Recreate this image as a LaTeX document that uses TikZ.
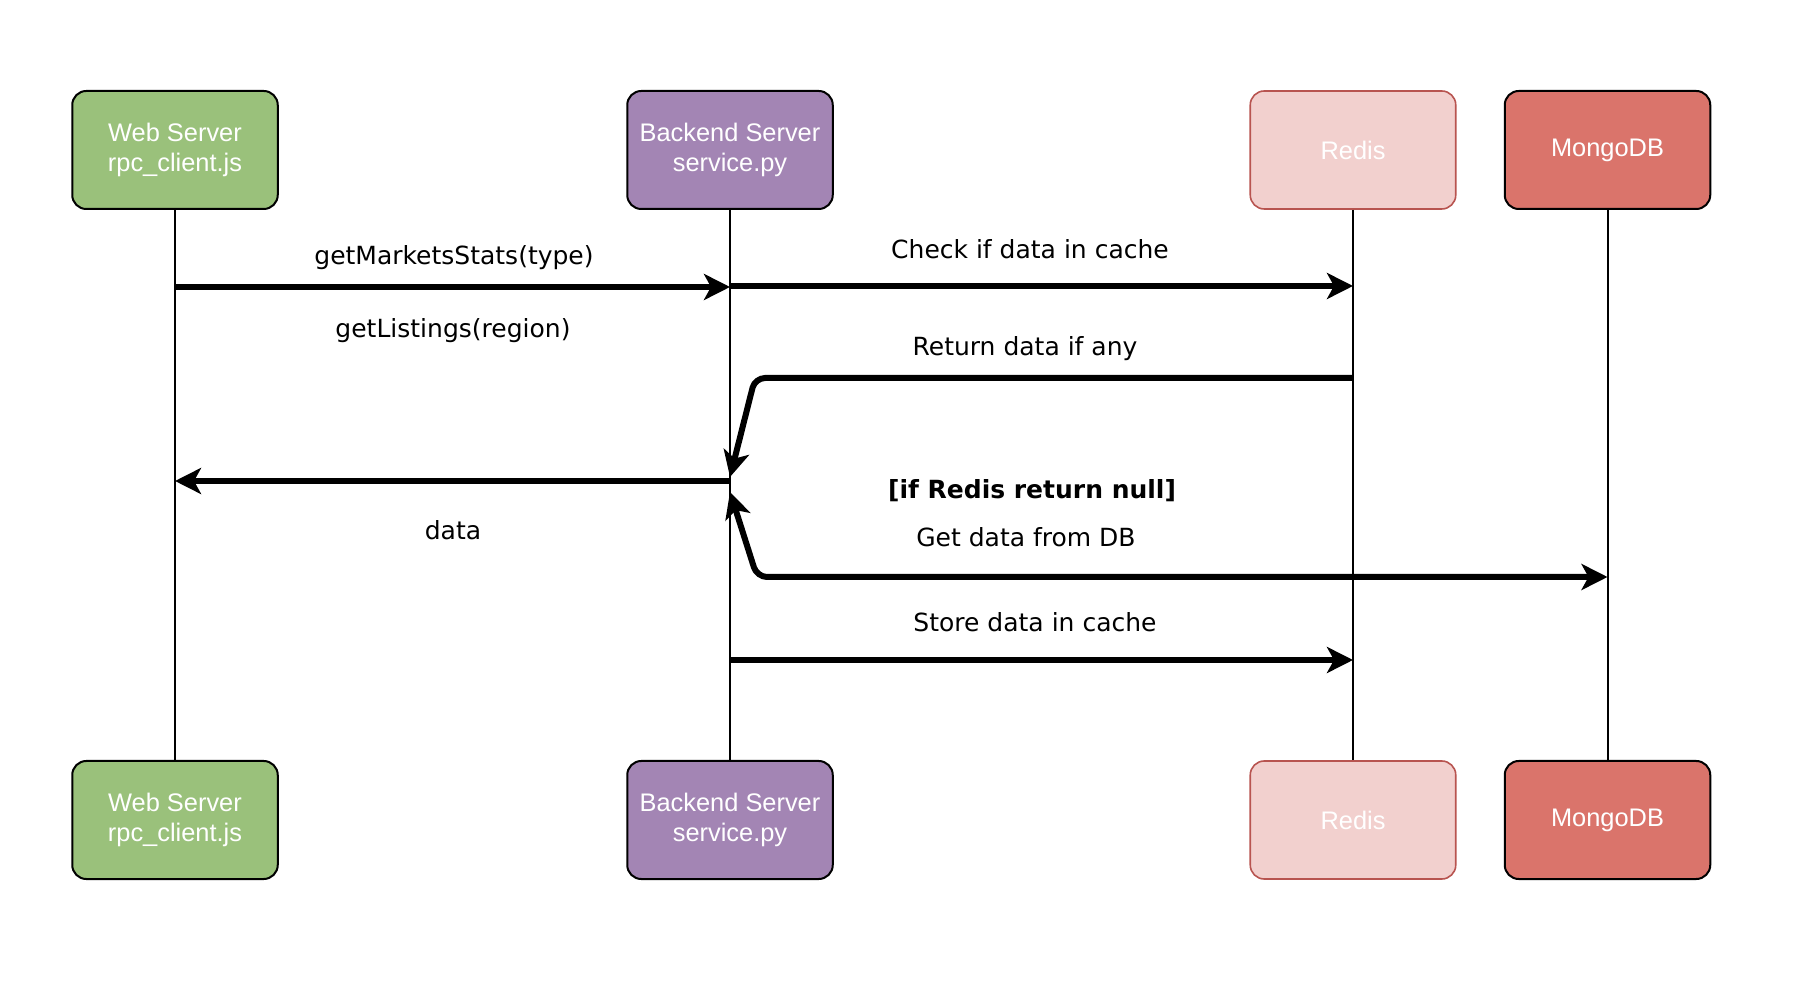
\documentclass[tikz,border=0pt]{standalone}
\usepackage{fontspec}
\setmainfont{DejaVu Sans}
\newfontfamily\boxfont{Liberation Sans}
\usetikzlibrary{arrows.meta}
\definecolor{webgreen}{HTML}{9AC17B}
\definecolor{backpurple}{HTML}{A385B4}
\definecolor{redisfill}{HTML}{F2D0CE}
\definecolor{redisline}{HTML}{B85450}
\definecolor{mongofill}{HTML}{DA746B}
\tikzset{
  actor/.style={draw=black,line width=1pt,rounded corners=7pt,minimum width=102.75pt,minimum height=59pt,
    inner sep=0pt,align=center,text=white,font=\boxfont\fontsize{12.7}{15}\selectfont},
  life/.style={line width=1pt},
  msg/.style={line width=3pt,-{Stealth[length=13pt,width=13pt,inset=3.5pt]}},
  msgboth/.style={line width=3pt,{Stealth[length=13pt,width=13pt,inset=3.5pt]}-{Stealth[length=13pt,width=13pt,inset=3.5pt]}},
  lbl/.style={anchor=base,inner sep=0pt,font=\fontsize{12.5}{15}\selectfont},
}
\begin{document}
\begin{tikzpicture}[x=0.5pt,y=-0.5pt]
\useasboundingbox (0,0) rectangle (1804,1004);
% heads (A) and feet (B) of the lifelines
\foreach \r/\y in {A/150,B/820}{
  \node[actor,fill=webgreen] (\r1) at (175,\y) {Web Server\\rpc\_client.js};
  \node[actor,fill=backpurple] (\r2) at (730,\y) {Backend Server\\service.py};
  \node[actor,fill=redisfill,draw=redisline,line width=0.8pt] (\r3) at (1353,\y) {Redis};
  \node[actor,fill=mongofill] (\r4) at (1607.5,\y) {MongoDB};
}
\foreach \i in {1,...,4} \draw[life] (A\i) -- (B\i);
% messages
\draw[msg] (A1 |- 0,287) -- (A2 |- 0,287);
\draw[msg] (A2 |- 0,286) -- (A3 |- 0,286);
\draw[msg,rounded corners=5pt] (A3 |- 0,378) -- (755,378) -- (A2 |- 0,477);
\draw[msg] (A2 |- 0,481) -- (A1 |- 0,481);
\draw[msgboth,rounded corners=5pt] (A2 |- 0,492) -- (757,577) -- (A4 |- 0,577);
\draw[msg] (A2 |- 0,660) -- (A3 |- 0,660);
% labels
\node[lbl] (stats) at (454,265) {getMarketsStats(type)};
\node[lbl] (listings) at (453,338) {getListings(region)};
\node[lbl] (check) at (1030,259) {Check if data in cache};
\node[lbl] (ret) at (1025,356) {Return data if any};
\node[lbl] (data) at (453,540) {data};
\node[lbl,font=\bfseries\fontsize{12.5}{15}\selectfont] (cond) at (1032,499) {[if Redis return null]};
\node[lbl] (getdb) at (1026,547) {Get data from DB};
\node[lbl] (store) at (1035,632) {Store data in cache};
\end{tikzpicture}
\end{document}
